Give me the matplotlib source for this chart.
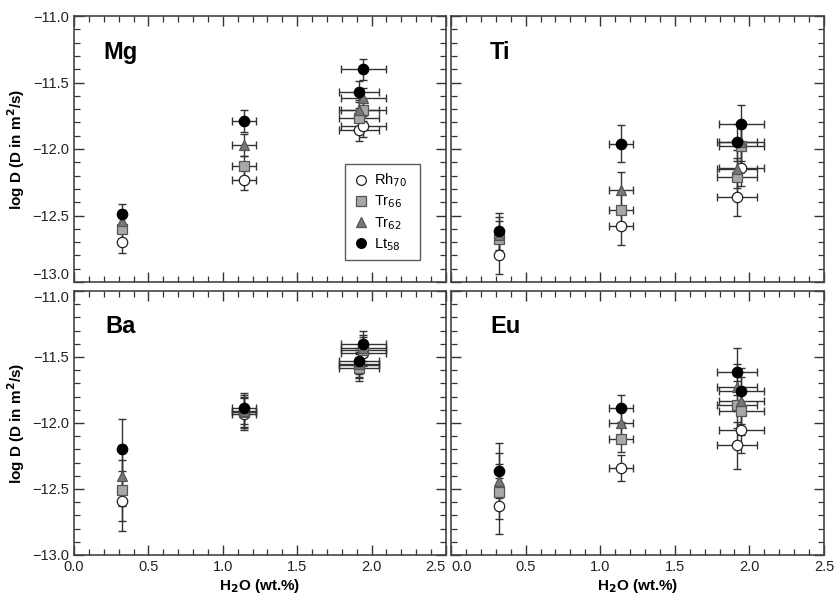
import matplotlib
matplotlib.use("Agg")
import matplotlib.pyplot as plt
from matplotlib.ticker import MultipleLocator, FuncFormatter
from matplotlib.lines import Line2D

plt.rcParams['font.family'] = ['Liberation Sans', 'DejaVu Sans']

# ---- data ----
h2o = [0.32, 1.14, 1.915, 1.945]
h2o_err = [0.0, 0.08, 0.135, 0.15]

series = ["Rh70", "Tr66", "Tr62", "Lt58"]
series_labels = [r"Rh$_{70}$", r"Tr$_{66}$", r"Tr$_{62}$", r"Lt$_{58}$"]

mg_vals = {
    "Rh70": [-12.70, -12.23, -11.86, -11.83],
    "Tr66": [-12.60, -12.13, -11.77, -11.71],
    "Tr62": [-12.54, -11.97, -11.71, -11.62],
    "Lt58": [-12.49, -11.79, -11.57, -11.40],
}
ti_vals = {
    "Rh70": [-12.80, -12.58, -12.36, -12.14],
    "Tr66": [-12.68, -12.46, -12.21, -11.98],
    "Tr62": [-12.65, -12.31, -12.15, -11.95],
    "Lt58": [-12.62, -11.96, -11.95, -11.81],
}
ba_vals = {
    "Rh70": [-12.59, -11.93, -11.56, -11.47],
    "Tr66": [-12.51, -11.92, -11.58, -11.45],
    "Tr62": [-12.40, -11.91, -11.55, -11.43],
    "Lt58": [-12.20, -11.89, -11.53, -11.40],
}
eu_vals = {
    "Rh70": [-12.63, -12.34, -12.17, -12.05],
    "Tr66": [-12.52, -12.12, -11.86, -11.91],
    "Tr62": [-12.44, -12.00, -11.73, -11.83],
    "Lt58": [-12.36, -11.89, -11.61, -11.76],
}
mg_err = [0.08, 0.08, 0.08, 0.08]
ti_err = [0.14, 0.14, 0.14, 0.14]
ba_err = [0.23, 0.12, 0.10, 0.10]
eu_err = [0.21, 0.10, 0.18, 0.18]

panel_names = ["Mg", "Ti", "Ba", "Eu"]

# ---- styles ----
styles = {
    "Rh70": dict(marker="o", mfc="white", mec="#222222"),
    "Tr66": dict(marker="s", mfc="#a8a8a8", mec="#555555"),
    "Tr62": dict(marker="^", mfc="#777777", mec="#555555"),
    "Lt58": dict(marker="o", mfc="black", mec="black"),
}

W, H = 834, 599
fig = plt.figure(figsize=(W / 100, H / 100), dpi=100)

def rect(x0, y0, x1, y1):
    return [x0 / W, 1 - y1 / H, (x1 - x0) / W, (y1 - y0) / H]

def fmt(v, pos):
    return ("%.1f" % v).replace("-", "\u2212")

rects = [rect(74, 16, 446, 282), rect(451, 16, 824, 282),
         rect(74, 291, 446, 555), rect(451, 291, 824, 555)]
all_vals = [mg_vals, ti_vals, ba_vals, eu_vals]
all_err = [mg_err, ti_err, ba_err, eu_err]
label_x = [0.079, 0.105, 0.083, 0.105]

axes = []
for i, (r, vals, yerr, name) in enumerate(zip(rects, all_vals, all_err, panel_names)):
    ax = fig.add_axes(r)
    axes.append(ax)
    for s in series:
        ax.errorbar(h2o, vals[s], yerr=yerr, xerr=h2o_err, fmt="none",
                    ecolor="#333333", elinewidth=1.0, capsize=3, capthick=1.0, zorder=2)
    for s in series:
        ax.plot(h2o, vals[s], linestyle="none", markersize=7.5, markeredgewidth=0.9,
                zorder=3, **styles[s])
    ax.set_xlim(0, 2.5)
    ax.set_ylim(-13, -11)
    ax.xaxis.set_major_locator(MultipleLocator(0.5))
    ax.xaxis.set_minor_locator(MultipleLocator(0.1))
    ax.yaxis.set_major_locator(MultipleLocator(0.5))
    ax.yaxis.set_minor_locator(MultipleLocator(0.1))
    ax.xaxis.set_major_formatter(FuncFormatter(fmt))
    ax.yaxis.set_major_formatter(FuncFormatter(fmt))
    ax.tick_params(which="both", direction="in", top=True, right=True,
                   colors="#333333", labelcolor="#222222", labelsize=10.5)
    ax.tick_params(which="major", length=7, width=1)
    ax.tick_params(which="minor", length=4, width=0.9)
    for sp in ax.spines.values():
        sp.set_color("#444444")
        sp.set_linewidth(1.2)
    if i in (1, 3):
        ax.tick_params(labelleft=False)
    else:
        ax.set_ylabel(r"log D (D in m$^\mathbf{2}$/s)", fontweight="bold", fontsize=11, labelpad=4)
    if i in (0, 1):
        ax.tick_params(labelbottom=False)
    else:
        ax.set_xlabel(r"H$_\mathbf{2}$O (wt.%)", fontweight="bold", fontsize=11, labelpad=2)
    ax.text(label_x[i], 0.84, name, transform=ax.transAxes, fontsize=17,
            fontweight="bold", ha="left", va="baseline")
    if i == 0:
        handles = [Line2D([], [], linestyle="none", markersize=7, markeredgewidth=0.9, **styles[s])
                   for s in series]
        leg = ax.legend(handles, series_labels, loc="lower left",
                        bbox_to_anchor=(0.728, 0.083, 0.202, 0.337), mode="expand",
                        fontsize=10.5, frameon=True, fancybox=False, handletextpad=0.3,
                        borderpad=0.5, labelspacing=0.3, handlelength=1.2,
                        borderaxespad=0)
        leg.get_frame().set_edgecolor("#333333")
        leg.get_frame().set_linewidth(1.0)

fig.canvas.draw()
# avoid collisions between adjacent panels' end labels
for t in axes[2].get_xticklabels():
    if t.get_text() == "2.5":
        t.set_ha("right")
for t in axes[3].get_xticklabels():
    if t.get_text() == "0.0":
        t.set_ha("left")
for t in axes[0].get_yticklabels():
    if t.get_text() == "\u221213.0":
        t.set_va("bottom")
for t in axes[2].get_yticklabels():
    if t.get_text() == "\u221211.0":
        t.set_va("top")

fig.savefig("out.png", dpi=100)
